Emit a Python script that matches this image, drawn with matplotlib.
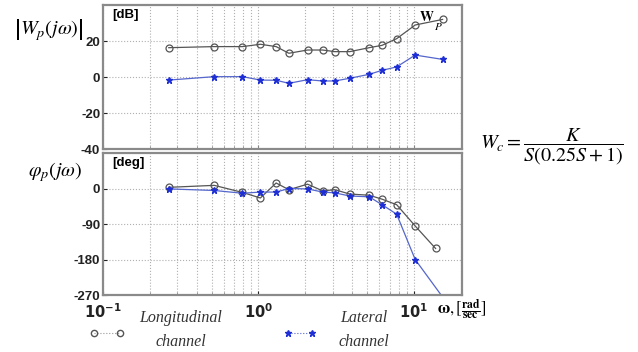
import matplotlib
matplotlib.use("Agg")
import matplotlib.pyplot as plt
from matplotlib.ticker import LogLocator, NullFormatter, FixedLocator

plt.rcParams["mathtext.fontset"] = "stix"
plt.rcParams["axes.unicode_minus"] = False

# frequencies, rad/sec
freq = [0.265, 0.52, 0.79, 1.03, 1.30, 1.57, 2.07, 2.59, 3.1, 3.87, 5.16, 6.24, 7.75, 10.2, 15.3]
freq_long_phase = [0.265, 0.52, 0.79, 1.03, 1.30, 1.57, 2.07, 2.59, 3.1, 3.87, 5.16, 6.24, 7.75, 10.2, 13.8]

long_db = [16.3, 16.9, 16.9, 18.2, 16.9, 13.2, 15.0, 15.0, 14.1, 14.1, 16.3, 17.6, 21.3, 28.9, 32.0]
lat_db = [-1.7, 0.2, 0.2, -1.7, -1.8, -3.5, -1.5, -2.2, -2.2, -0.7, 1.5, 3.7, 5.6, 12.2, 9.8]

long_deg = [3, 8, -10, -24, 14, -3, 11, -6, -3, -14, -17, -27, -41, -95, -152]
lat_deg = [-1, -5, -12, -9, -9, 0, -1, -9, -11, -19, -21, -41, -65, -180, -275]

mag_ticks = [-40, -20, 0, 20]
phase_ticks = [-270, -180, -90, 0]

gray = "#555555"
blue_line = "#5566cc"
blue_mk = "#1f2fd6"
spine_col = "#8a8a8a"

fig = plt.figure(figsize=(6.38, 3.52), dpi=100)
ax1 = fig.add_axes([0.1614, 0.5767, 0.5627, 0.409])
ax2 = fig.add_axes([0.1614, 0.1619, 0.5627, 0.4034])


def style(ax, yticks, ylim):
    ax.set_xscale("log")
    ax.set_xlim(0.1, 20.4)
    ax.set_ylim(*ylim)
    ax.yaxis.set_major_locator(FixedLocator(yticks))
    ax.xaxis.set_major_locator(LogLocator(base=10))
    ax.xaxis.set_minor_locator(LogLocator(base=10, subs=range(2, 10)))
    ax.xaxis.set_minor_formatter(NullFormatter())
    ax.grid(True, which="both", axis="x", linestyle=":", color="#b0b0b0", lw=0.8)
    ax.grid(True, which="major", axis="y", linestyle=":", color="#b0b0b0", lw=0.8)
    ax.tick_params(which="both", direction="in", length=3, color="#888888", pad=2)
    ax.tick_params(which="minor", length=2)
    for s in ax.spines.values():
        s.set_color(spine_col)
        s.set_linewidth(1.6)
    ax.tick_params(axis="y", labelsize=9.5, colors="#222222")
    for lab in ax.get_yticklabels():
        lab.set_family("Liberation Sans")
        lab.set_fontweight("bold")


ax1.plot(freq, long_db, color=gray, lw=0.9, marker="o", ms=5, mfc="none", mec=gray, mew=0.9)
ax1.plot(freq, lat_db, color=blue_line, lw=0.9, marker="*", ms=4.5, mfc=blue_mk, mec=blue_mk)
style(ax1, mag_ticks, (-40, 40))
ax1.tick_params(axis="x", labelbottom=False)

ax2.plot(freq_long_phase, long_deg, color=gray, lw=0.9, marker="o", ms=5, mfc="none", mec=gray, mew=0.9)
ax2.plot(freq, lat_deg, color=blue_line, lw=0.9, marker="*", ms=4.5, mfc=blue_mk, mec=blue_mk)
style(ax2, phase_ticks, (-270, 90))
ax2.tick_params(axis="x", labelsize=10.5, colors="#222222", pad=5)
for lab in ax2.get_xticklabels():
    lab.set_fontweight("bold")

# panel tags
ax1.text(0.025, 0.97, "[dB]", transform=ax1.transAxes, ha="left", va="top",
         fontsize=9.5, fontweight="bold", family="Liberation Sans")
ax2.text(0.025, 0.97, "[deg]", transform=ax2.transAxes, ha="left", va="top",
         fontsize=9.5, fontweight="bold", family="Liberation Sans")
ax1.text(0.88, 0.965, r"$\mathbf{W}$", transform=ax1.transAxes, ha="left", va="top", fontsize=10)
ax1.text(0.922, 0.89, r"$P$", transform=ax1.transAxes, ha="left", va="top", fontsize=8)

# y-axis labels
fig.text(0.077, 0.915, r"$\left|W_p(j\omega)\right|$", ha="center", va="center", fontsize=14.5)
fig.text(0.087, 0.512, r"$\varphi_p(j\omega)$", ha="center", va="center", fontsize=14.5)

# x-axis unit
fig.text(0.685, 0.118, r"$\mathbf{\omega},[\frac{\mathbf{rad}}{\mathbf{sec}}]$", ha="left", va="center", fontsize=12)

# controller formula
fig.text(0.865, 0.583, r"$W_c = \dfrac{K}{S(0.25S+1)}$", ha="center", va="center", fontsize=14.5)

# legend-like annotations
fig.lines.append(plt.Line2D([0.148, 0.188], [0.054, 0.054], transform=fig.transFigure,
                            color="#999999", lw=0.8, ls=":", marker="o", ms=4.5, mfc="none", mec=gray))
fig.lines.append(plt.Line2D([0.451, 0.489], [0.054, 0.054], transform=fig.transFigure,
                            color=blue_line, lw=0.8, ls=":", marker="*", ms=5, mfc=blue_mk, mec=blue_mk))
serif_it = dict(family="Liberation Serif", style="italic", fontsize=11.5, color="#333333")
fig.text(0.283, 0.097, "Longitudinal", ha="center", va="center", **serif_it)
fig.text(0.283, 0.028, "channel", ha="center", va="center", **serif_it)
fig.text(0.57, 0.097, "Lateral", ha="center", va="center", **serif_it)
fig.text(0.57, 0.028, "channel", ha="center", va="center", **serif_it)

fig.savefig("out.png", dpi=100)
